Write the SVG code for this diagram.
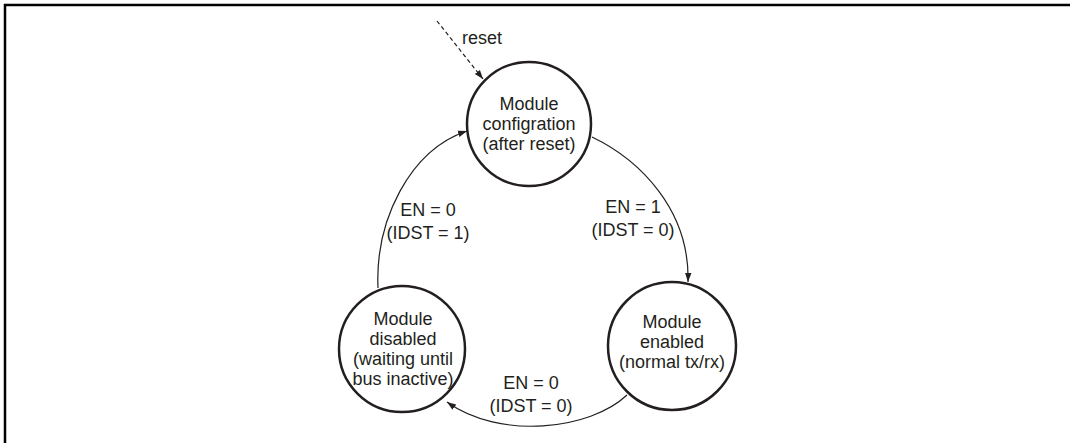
<svg xmlns="http://www.w3.org/2000/svg" width="1070" height="443" viewBox="0 0 1070 443">
<defs>
<marker id="ah" markerWidth="10" markerHeight="8" refX="9" refY="4" orient="auto" markerUnits="userSpaceOnUse">
<path d="M0,0.8 L9,4 L0,7.2 Z" fill="#231f20"/>
</marker>
</defs>
<style>
.st{fill:#fff;stroke:#231f20;stroke-width:2.5}
.t{font-family:"Liberation Sans",Arial,sans-serif;font-size:18px;fill:#231f20;text-anchor:middle}
.e{fill:none;stroke:#231f20;stroke-width:1.2}
</style>
<rect width="1070" height="443" fill="#fff"/>
<g id="frame">
<path d="M4,5 H1070 M5,4 V443" fill="none" stroke="#000" stroke-width="2.5"/>
</g>
<g id="connectors">
<path class="e" d="M437,21 L483,79" stroke-dasharray="4,3" marker-end="url(#ah)"/>
<path class="e" d="M378,288 C375,220 410,150 467,131" marker-end="url(#ah)"/>
<path class="e" d="M592,137 C640,160 690,210 688,282" marker-end="url(#ah)"/>
<path class="e" d="M627,395 C590,430 500,440 447,402" marker-end="url(#ah)"/>
<text class="t" x="482" y="44">reset</text>
<text class="t" x="633" y="213">EN = 1</text>
<text class="t" x="633" y="236">(IDST = 0)</text>
<text class="t" x="428" y="216">EN = 0</text>
<text class="t" x="428" y="239">(IDST = 1)</text>
<text class="t" x="531" y="389">EN = 0</text>
<text class="t" x="531" y="412">(IDST = 0)</text>
</g>
<g id="config">
<circle class="st" cx="529" cy="124" r="62"/>
<text class="t" x="529" y="110">Module</text>
<text class="t" x="529" y="130">configration</text>
<text class="t" x="529" y="150">(after reset)</text>
</g>
<g id="disabled">
<circle class="st" cx="402" cy="349" r="63"/>
<text class="t" x="403" y="325">Module</text>
<text class="t" x="403" y="345">disabled</text>
<text class="t" x="403" y="365">(waiting until</text>
<text class="t" x="403" y="385">bus inactive)</text>
</g>
<g id="enabled">
<circle class="st" cx="672" cy="346" r="64"/>
<text class="t" x="672" y="328">Module</text>
<text class="t" x="672" y="348">enabled</text>
<text class="t" x="672" y="368">(normal tx/rx)</text>
</g>
</svg>
